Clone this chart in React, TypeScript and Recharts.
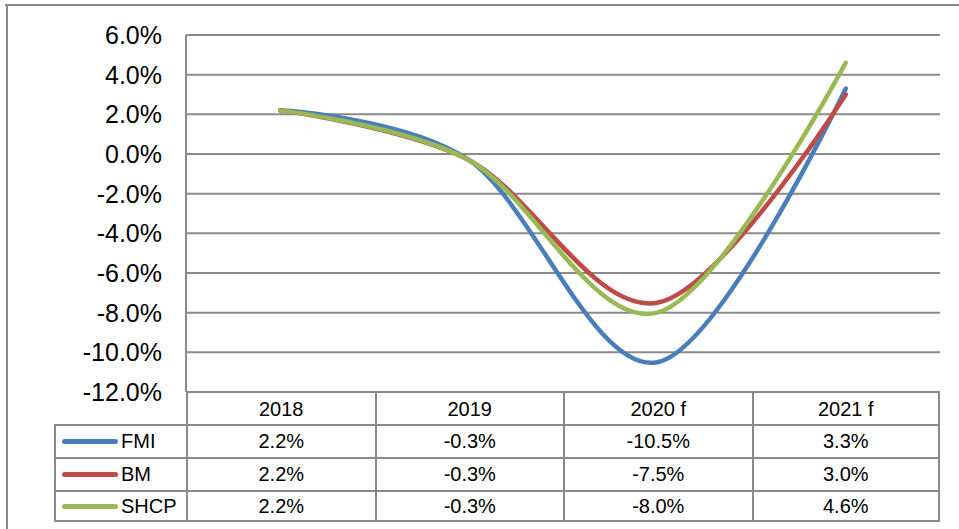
import { ComposedChart, Line, XAxis, YAxis, CartesianGrid } from "recharts";

const years = ["2018", "2019", "2020 f", "2021 f"];
const fmi = [2.2, -0.3, -10.5, 3.3];
const bm = [2.2, -0.3, -7.5, 3.0];
const shcp = [2.2, -0.3, -8.0, 4.6];
const yTicks = [-12, -10, -8, -6, -4, -2, 0, 2, 4, 6];

const seriesList = [
  { key: "FMI", values: fmi, color: "#4A7EBB" },
  { key: "BM", values: bm, color: "#BE4B48" },
  { key: "SHCP", values: shcp, color: "#98B954" },
];

const data = years.map((year, i) => ({
  year,
  FMI: fmi[i],
  BM: bm[i],
  SHCP: shcp[i],
}));

// Excel-like smoothing: cardinal spline, same as d3 curveCardinal(0)
const excelSmooth = (context: any) => {
  const k = 1 / 6;
  let x0 = NaN, x1 = NaN, x2 = NaN, y0 = NaN, y1 = NaN, y2 = NaN;
  let n = 0;
  let line = NaN;
  const seg = (x: number, y: number) =>
    context.bezierCurveTo(
      x1 + k * (x2 - x0),
      y1 + k * (y2 - y0),
      x2 + k * (x1 - x),
      y2 + k * (y1 - y),
      x2,
      y2
    );
  return {
    areaStart() { line = 0; },
    areaEnd() { line = NaN; },
    lineStart() {
      x0 = x1 = x2 = y0 = y1 = y2 = NaN;
      n = 0;
    },
    lineEnd() {
      if (n === 2) context.lineTo(x2, y2);
      else if (n === 3) seg(x1, y1);
      if (line || (line !== 0 && n === 1)) context.closePath();
      line = 1 - line;
    },
    point(x: number, y: number) {
      x = +x;
      y = +y;
      switch (n) {
        case 0:
          n = 1;
          if (line) context.lineTo(x, y);
          else context.moveTo(x, y);
          break;
        case 1:
          n = 2;
          x1 = x;
          y1 = y;
          break;
        case 2:
          n = 3;
          seg(x, y);
          break;
        default:
          seg(x, y);
      }
      x0 = x1; x1 = x2; x2 = x;
      y0 = y1; y1 = y2; y2 = y;
    },
  };
};

const FONT = "'Liberation Sans', Arial, sans-serif";
const GRAY = "#8a8a8a";
const PLOT_L = 186;
const PLOT_R = 940;
const COL_W = (PLOT_R - PLOT_L) / 4;
const LEGEND_L = 54;
const ROW_TOPS = [392, 424, 457, 490, 522];

function DataTable() {
  const cells: any[] = [];
  // header row
  years.forEach((y, i) => {
    cells.push(
      <div
        key={"h" + i}
        style={{
          position: "absolute",
          left: PLOT_L + i * COL_W,
          top: ROW_TOPS[0],
          width: COL_W,
          height: ROW_TOPS[1] - ROW_TOPS[0],
          borderLeft: `2px solid ${GRAY}`,
          borderRight: i === 3 ? `2px solid ${GRAY}` : undefined,
          boxSizing: "border-box",
          display: "flex",
          alignItems: "center",
          justifyContent: "center",
          paddingTop: 2,
        }}
      >
        {y}
      </div>
    );
  });
  seriesList.forEach((s, r) => {
    const top = ROW_TOPS[r + 1];
    const h = ROW_TOPS[r + 2] - top;
    cells.push(
      <div
        key={"l" + r}
        style={{
          position: "absolute",
          left: LEGEND_L,
          top,
          width: PLOT_L - LEGEND_L,
          height: h,
          borderLeft: `2px solid ${GRAY}`,
          borderTop: `2px solid ${GRAY}`,
          borderBottom: r === 2 ? `2px solid ${GRAY}` : undefined,
          boxSizing: "border-box",
          display: "flex",
          alignItems: "center",
        }}
      >
        <span
          style={{
            display: "inline-block",
            marginLeft: 6,
            width: 56,
            height: 5,
            borderRadius: 3,
            background: s.color,
          }}
        />
        <span style={{ marginLeft: 3 }}>{s.key}</span>
      </div>
    );
    s.values.forEach((v, i) => {
      cells.push(
        <div
          key={"c" + r + "-" + i}
          style={{
            position: "absolute",
            left: PLOT_L + i * COL_W,
            top,
            width: COL_W,
            height: h,
            borderLeft: `2px solid ${GRAY}`,
            borderTop: `2px solid ${GRAY}`,
            borderRight: i === 3 ? `2px solid ${GRAY}` : undefined,
            borderBottom: r === 2 ? `2px solid ${GRAY}` : undefined,
            boxSizing: "border-box",
            display: "flex",
            alignItems: "center",
            justifyContent: "center",
          }}
        >
          {v.toFixed(1) + "%"}
        </div>
      );
    });
  });
  return <>{cells}</>;
}

export default function App() {
  return (
    <div
      style={{
        position: "absolute",
        left: 0,
        top: 0,
        width: 959,
        height: 529,
        background: "#fff",
        overflow: "hidden",
        fontFamily: FONT,
        fontSize: 20,
        color: "#000",
      }}
    >
      {/* outer frame */}
      <div style={{ position: "absolute", left: 5, top: 4, width: 954, height: 2, background: GRAY }} />
      <div style={{ position: "absolute", left: 6, top: 4, width: 2, height: 525, background: GRAY }} />

      <div style={{ position: "absolute", left: 0, top: 0 }}>
        <ComposedChart
          width={959}
          height={529}
          data={data}
          margin={{ top: 35, right: 959 - PLOT_R, bottom: 529 - 392, left: 0 }}
        >
          <CartesianGrid vertical={false} stroke={GRAY} strokeWidth={2} />
          <XAxis
            dataKey="year"
            hide
            scale="point"
            padding={{ left: COL_W / 2, right: COL_W / 2 }}
          />
          <YAxis
            width={PLOT_L}
            domain={[-12, 6]}
            ticks={yTicks}
            interval={0}
            tickFormatter={(v: number) => v.toFixed(1) + "%"}
            tickLine={false}
            tickSize={0}
            tickMargin={24}
            axisLine={{ stroke: GRAY, strokeWidth: 2 }}
            tick={{ fill: "#000", fontSize: 25, fontFamily: FONT }}
          />
          {seriesList.map((s) => (
            <Line
              key={s.key}
              dataKey={s.key}
              type={excelSmooth as any}
              stroke={s.color}
              strokeWidth={4.5}
              strokeLinecap="round"
              dot={false}
              activeDot={false}
              isAnimationActive={false}
            />
          ))}
        </ComposedChart>
      </div>
      <DataTable />
    </div>
  );
}
